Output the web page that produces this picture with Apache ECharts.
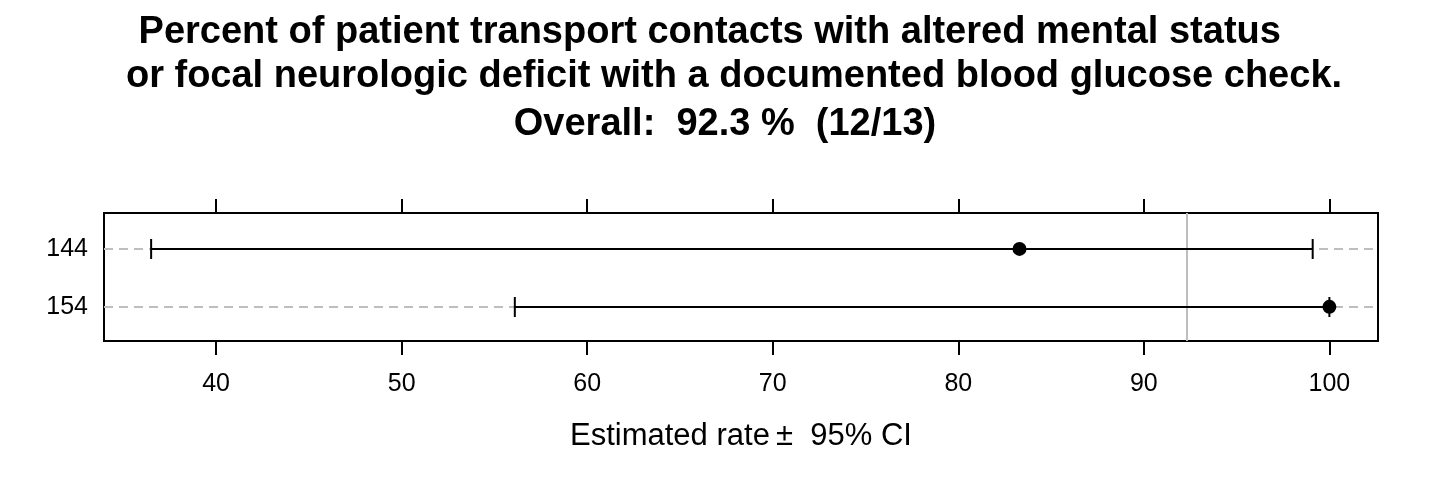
<!DOCTYPE html>
<html>
<head>
<meta charset="utf-8">
<script src="https://cdn.jsdelivr.net/npm/echarts@6/dist/echarts.min.js"></script>
<style>
html,body{margin:0;padding:0;background:#fff;}
#chart{width:1440px;height:480px;}
</style>
</head>
<body>
<div id="chart"></div>
<script>
// ---- data ----
var categories = ['144', '154'];
var rowPos = [2, 1];               // vertical position of each category
var estimates = [83.3, 100];
var lowerCI = [36.5, 56.1];
var upperCI = [99.1, 100];
var overallRate = 92.3;
var xTicks = [40, 50, 60, 70, 80, 90, 100];
var titleLines = [
  'Percent of patient transport contacts with altered mental status ',
  'or focal neurologic deficit with a documented blood glucose check.',
  'Overall:  92.3 %  (12/13)'
];
var xAxisTitle = 'Estimated rate\u2009\u00b1  95% CI';

// ---- chart ----
var chart = echarts.init(document.getElementById('chart'));
var FONT = '"Liberation Sans", Arial, sans-serif';

var barData = categories.map(function (c, i) { return [lowerCI[i], upperCI[i], rowPos[i]]; });
var pointData = categories.map(function (c, i) { return [estimates[i], rowPos[i]]; });

var xMin = 33.96, xMax = 102.62;

var option = {
  animation: false,
  backgroundColor: '#fff',
  graphic: [
    { type: 'text', x: 715, y: 33, style: { text: titleLines[0], font: 'bold 38px ' + FONT, fill: '#000', textAlign: 'center', textVerticalAlign: 'middle' } },
    { type: 'text', x: 734, y: 77, style: { text: titleLines[1], font: 'bold 38px ' + FONT, fill: '#000', textAlign: 'center', textVerticalAlign: 'middle' } },
    { type: 'text', x: 725, y: 125, style: { text: titleLines[2], font: 'bold 38px ' + FONT, fill: '#000', textAlign: 'center', textVerticalAlign: 'middle' } }
  ],
  grid: {
    left: 104, right: 62, top: 213, bottom: 139,
    show: true, borderColor: '#000', borderWidth: 2, backgroundColor: 'transparent'
  },
  xAxis: [
    {
      type: 'value', position: 'bottom', min: xMin, max: xMax,
      axisLine: { show: false },
      axisTick: { show: true, length: 14, lineStyle: { color: '#000', width: 2 }, customValues: xTicks },
      axisLabel: { show: true, customValues: xTicks, margin: 31, color: '#000', fontSize: 25, fontFamily: FONT },
      splitLine: { show: false },
      name: xAxisTitle, nameLocation: 'middle', nameGap: 80,
      nameTextStyle: { color: '#000', fontSize: 31, fontFamily: FONT }
    },
    {
      type: 'value', position: 'top', min: xMin, max: xMax,
      axisLine: { show: false },
      axisTick: { show: true, length: 14, lineStyle: { color: '#000', width: 2 }, customValues: xTicks },
      axisLabel: { show: false },
      splitLine: { show: false }
    }
  ],
  yAxis: {
    type: 'value', min: 0.41, max: 2.62,
    axisLine: { show: false },
    axisTick: { show: false, customValues: rowPos },
    axisLabel: {
      show: true, customValues: rowPos, margin: 16, color: '#000', fontSize: 25, fontFamily: FONT,
      formatter: function (v) { var i = rowPos.indexOf(v); return i >= 0 ? categories[i] : ''; }
    },
    splitLine: { show: false }
  },
  series: [
    {
      type: 'line', data: [], z: 1, silent: true,
      markLine: {
        z: 1, silent: true, symbol: 'none', label: { show: false },
        data: rowPos.map(function (p) { return { yAxis: p, lineStyle: { color: '#bebebe', type: [9, 6], width: 2 } }; })
          .concat([{ xAxis: overallRate, lineStyle: { color: '#bebebe', type: 'solid', width: 2 } }])
      }
    },
    {
      type: 'custom', z: 3, data: barData, silent: true,
      renderItem: function (params, api) {
        var lo = api.coord([api.value(0), api.value(2)]);
        var hi = api.coord([api.value(1), api.value(2)]);
        var y = Math.round(lo[1]);
        var h = 10;
        var st = { stroke: '#000', lineWidth: 2 };
        return {
          type: 'group',
          children: [
            { type: 'line', shape: { x1: lo[0], y1: y, x2: hi[0], y2: y }, style: st },
            { type: 'line', shape: { x1: lo[0], y1: y - h, x2: lo[0], y2: y + h }, style: st },
            { type: 'line', shape: { x1: hi[0], y1: y - h, x2: hi[0], y2: y + h }, style: st }
          ]
        };
      }
    },
    {
      type: 'scatter', z: 4, data: pointData, symbol: 'circle', symbolSize: 14, silent: true,
      itemStyle: { color: '#000', opacity: 1 }
    }
  ]
};
chart.setOption(option);
</script>
</body>
</html>
